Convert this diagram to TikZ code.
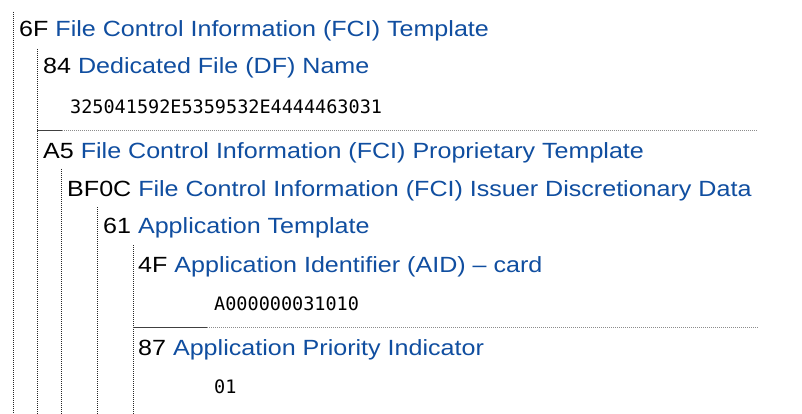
\documentclass[tikz,border=0pt]{standalone}
\usepackage{fontspec}
\setmainfont{Liberation Sans}[FakeStretch=1.14]
\newfontfamily\hexfont{DejaVu Sans Mono}
\definecolor{tagblue}{RGB}{16,78,160}
\begin{document}
\begin{tikzpicture}[x=1pt,y=-1pt,
  tagtxt/.style={anchor=base west,inner sep=0pt,font=\fontsize{22}{26}\selectfont},
  hextxt/.style={anchor=base west,inner sep=0pt,font=\hexfont\fontsize{18.5}{22}\selectfont},
  vline/.style={draw=black!85,line width=0.8pt,dash pattern=on 0.8pt off 1.2pt},
  hline/.style={draw=black!45,line width=1pt,dash pattern=on 1pt off 1pt},
  hsolid/.style={draw=black!75,line width=1pt}]
\useasboundingbox[fill=white] (0,0) rectangle (802,414);

% container borders
\coordinate (v1t) at (13,12);  \coordinate (v1b) at (13,414);
\coordinate (v2t) at (37,49);  \coordinate (v2b) at (37,414);
\coordinate (v3t) at (61,169); \coordinate (v3b) at (61,414);
\coordinate (v4t) at (97,207); \coordinate (v4b) at (97,414);
\coordinate (v5t) at (133,245);\coordinate (v5b) at (133,414);
\draw[vline] (v1t) -- (v1b);
\draw[vline] (v2t) -- (v2b);
\draw[vline] (v3t) -- (v3b);
\draw[vline] (v4t) -- (v4b);
\draw[vline] (v5t) -- (v5b);

% sibling separators
\coordinate (h1a) at (37,130.5); \coordinate (h1m) at (62,130.5); \coordinate (h1b) at (758,130.5);
\draw[hline] (h1m) -- (h1b);
\draw[hsolid] (h1a) -- (h1m);
\coordinate (h2a) at (133,327); \coordinate (h2m) at (207,327); \coordinate (h2b) at (758,327);
\draw[hline] (h2m) -- (h2b);
\draw[hsolid] (h2a) -- (h2m);

% rows
\node[tagtxt] (r6F) at (19,37) {6F \textcolor{tagblue}{File Control Information (FCI) Template}};
\node[tagtxt] (r84) at (43,74) {84 \textcolor{tagblue}{Dedicated File (DF) Name}};
\node[hextxt] (v84) at (70,114) {325041592E5359532E4444463031};
\node[tagtxt] (rA5) at (43,158) {A5 \textcolor{tagblue}{File Control Information (FCI) Proprietary Template}};
\node[tagtxt] (rBF) at (67,196) {BF0C \textcolor{tagblue}{File Control Information (FCI) Issuer Discretionary Data}};
\node[tagtxt] (r61) at (103,233) {61 \textcolor{tagblue}{Application Template}};
\node[tagtxt] (r4F) at (138,272) {4F \textcolor{tagblue}{Application Identifier (AID) – card}};
\node[hextxt] (v4F) at (214,310) {A000000031010};
\node[tagtxt] (r87) at (138,355) {87 \textcolor{tagblue}{Application Priority Indicator}};
\node[hextxt] (v87) at (214,393) {01};
\end{tikzpicture}
\end{document}
